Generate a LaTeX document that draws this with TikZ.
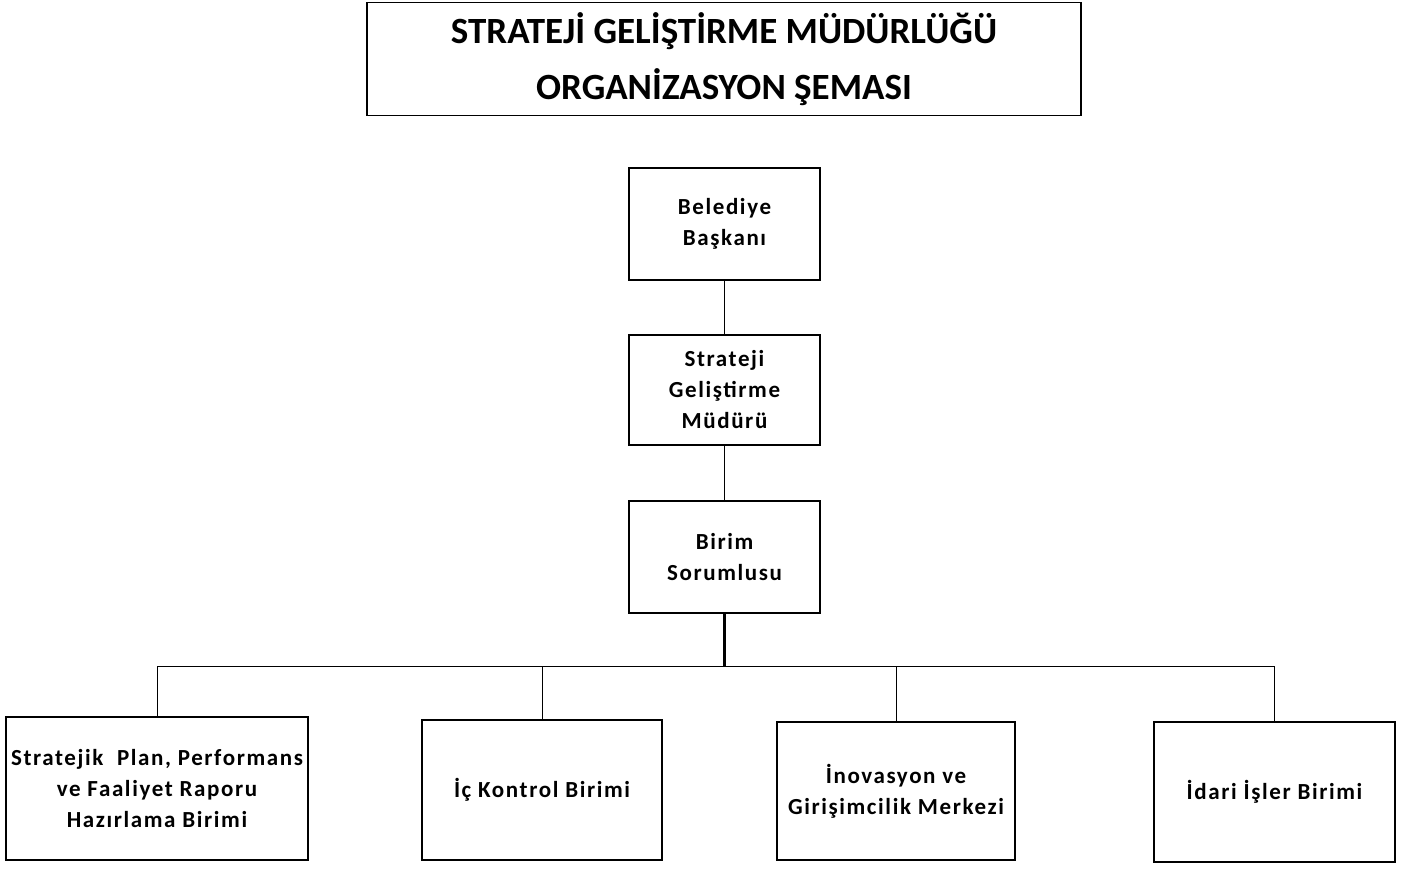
\documentclass[tikz,border=0pt]{standalone}
\usepackage{fontspec}
\setmainfont{Carlito}
\newfontfamily\boxfont{Carlito}[LetterSpace=7]
\usetikzlibrary{positioning}

\begin{document}
\begin{tikzpicture}[x=1pt,y=-1pt,
    box/.style={draw,line width=1.3pt,align=center,inner sep=0pt,
        font=\boxfont\bfseries\fontsize{23}{31}\selectfont},
    link/.style={line width=1pt}]
    \useasboundingbox (0,0) rectangle (1410,868);
    \node[draw,line width=1.3pt,align=center,minimum width=714pt,minimum height=113pt,
        font=\bfseries\fontsize{37}{56}\selectfont] (title) at (724,59)
        {STRATEJİ GELİŞTİRME MÜDÜRLÜĞÜ\\ORGANİZASYON ŞEMASI};
    \node[box,minimum width=191pt,minimum height=112pt] (baskan) at (724.5,224) {Belediye\\Başkanı};
    \node[box,minimum width=191pt,minimum height=110pt] (mudur) at (724.5,390) {Strateji\\Geliştirme\\Müdürü};
    \node[box,minimum width=191pt,minimum height=112pt] (sorumlu) at (724.5,557) {Birim\\Sorumlusu};
    \node[box,minimum width=302pt,minimum height=143pt] (plan) at (157,788.5) {Stratejik~ Plan, Performans\\ve Faaliyet Raporu\\Hazırlama Birimi};
    \node[box,minimum width=240pt,minimum height=140pt] (kontrol) at (542,790) {İç Kontrol Birimi};
    \node[box,minimum width=238pt,minimum height=138pt] (inovasyon) at (896,791) {İnovasyon ve\\Girişimcilik Merkezi};
    \node[box,minimum width=241pt,minimum height=140pt] (idari) at (1274.5,792) {İdari İşler Birimi};
    \coordinate (bus) at (724.5,666);
    \draw[link] (baskan) -- (mudur);
    \draw[link] (mudur) -- (sorumlu);
    \draw[line width=2.2pt] (sorumlu) -- (bus);
    \draw[link] (bus) -| (plan);
    \draw[link] (bus) -| (kontrol);
    \draw[link] (bus) -| (inovasyon);
    \draw[link] (bus) -| (idari);
\end{tikzpicture}
\end{document}
